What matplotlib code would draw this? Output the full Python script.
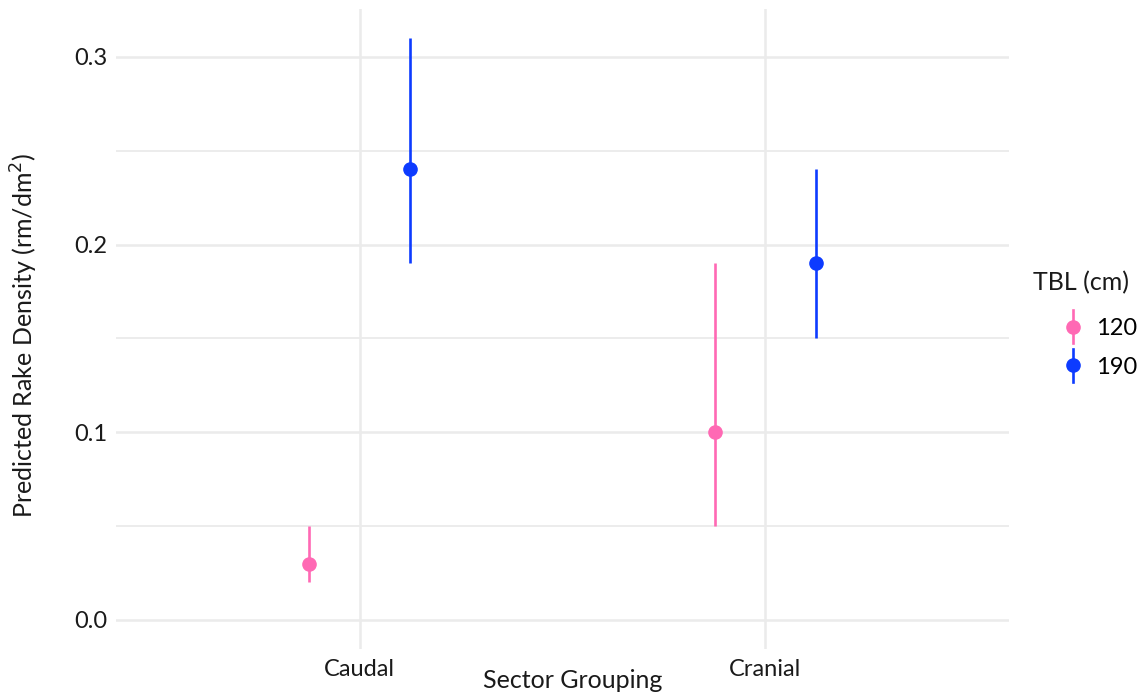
import matplotlib
matplotlib.use("Agg")
import matplotlib.pyplot as plt
from matplotlib.lines import Line2D
from matplotlib.legend_handler import HandlerBase
import numpy as np

plt.rcParams['font.family'] = ['Lato', 'DejaVu Sans']

categories = ["Caudal", "Cranial"]
groups = ["120", "190"]
estimate = {"120": [0.03, 0.10], "190": [0.24, 0.19]}
lower = {"120": [0.02, 0.05], "190": [0.19, 0.15]}
upper = {"120": [0.05, 0.19], "190": [0.31, 0.24]}
colors = {"120": "#FF69B4", "190": "#0D3BFF"}
offsets = {"120": -0.125, "190": 0.125}

fig = plt.figure(figsize=(11.39, 6.95), dpi=100)
W, H = 1139, 695
L, R, T, B = 116, 1009, 9, 649
ax = fig.add_axes([L / W, 1 - B / H, (R - L) / W, (B - T) / H])

xpos = np.arange(1, len(categories) + 1)
for g in groups:
    xs = xpos + offsets[g]
    for x, e, lo, hi in zip(xs, estimate[g], lower[g], upper[g]):
        ax.plot([x, x], [lo, hi], color=colors[g], lw=1.9, solid_capstyle='butt', zorder=3)
    ax.plot(xs, estimate[g], 'o', color=colors[g], ms=9.5, zorder=4, linestyle='none')

ax.set_xlim(0.4, 2.6)
ax.set_ylim(-0.0155, 0.3255)
ax.set_xticks(xpos)
ax.set_xticklabels(categories)
ax.set_yticks([0.0, 0.1, 0.2, 0.3])
ax.set_yticklabels(["0.0", "0.1", "0.2", "0.3"])
ax.set_yticks([0.05, 0.15, 0.25], minor=True)
ax.grid(True, which='major', color='#EBEBEB', lw=1.8)
ax.grid(True, which='minor', axis='y', color='#EBEBEB', lw=1.3)
ax.set_axisbelow(True)
for s in ax.spines.values():
    s.set_visible(False)
ax.tick_params(axis='both', which='both', length=0, labelsize=17, colors='#1a1a1a')
ax.tick_params(axis='x', pad=7)
ax.tick_params(axis='y', pad=6)

ax.set_xlabel("Sector Grouping", fontsize=18, color='#1a1a1a')
ax.xaxis.set_label_coords((573 - L) / (R - L), (B - 681) / (B - T), transform=ax.transAxes)
ax.xaxis.label.set_va('center')
ax.set_ylabel("Predicted Rake Density (rm/dm$^2$)", fontsize=18, color='#1a1a1a')
ax.yaxis.set_label_coords((24 - L) / (R - L), (B - 335) / (B - T), transform=ax.transAxes)
ax.yaxis.label.set_va('center')

handles = [Line2D([0], [0], color=colors[g], marker='o', ms=9.5, lw=1.9) for g in groups]


class VHandler(HandlerBase):
    def create_artists(self, legend, orig_handle, xdescent, ydescent, width, height, fontsize, trans):
        cx = width / 2 - xdescent
        cy = height / 2 - ydescent
        l = Line2D([cx, cx], [cy - 12, cy + 12], color=orig_handle.get_color(), lw=1.9, transform=trans)
        m = Line2D([cx], [cy], marker='o', ms=9.5, color=orig_handle.get_color(), transform=trans, linestyle='none')
        return [l, m]


fig.text(1033 / W, 1 - 283 / H, "TBL (cm)", fontsize=18, color='#1a1a1a', ha='left', va='center')
leg = fig.legend(handles, groups, loc='upper left',
                 bbox_to_anchor=(1061 / W, 1 - 318 / H), frameon=False,
                 fontsize=17, handler_map={Line2D: VHandler()},
                 handlelength=1.0, handletextpad=0.5, labelspacing=0.75,
                 borderaxespad=0, borderpad=0)

fig.savefig("out.png", dpi=100)
